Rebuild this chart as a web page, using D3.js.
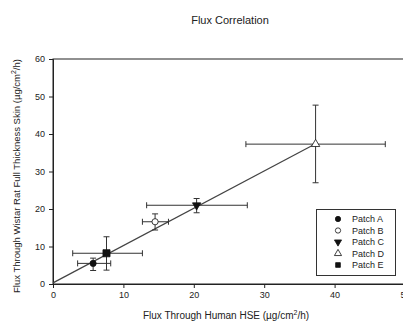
<!DOCTYPE html>
<html>
<head>
<meta charset="utf-8">
<title>Flux Correlation</title>
<script src="https://cdn.jsdelivr.net/npm/d3@7"></script>
<style>
    body { margin: 0; background: #fff; }
    text { font-family: "Liberation Sans", Arial, sans-serif; fill: #222; }
    .axis path, .axis line { stroke: #222; }
</style>
</head>
<body>
<script>
    // data
    var patches = ["Patch A", "Patch B", "Patch C", "Patch D", "Patch E"];
    var humanFlux = [5.7, 14.5, 20.4, 37.3, 7.6];
    var humanLo = [3.5, 12.7, 13.3, 27.4, 2.8];
    var humanHi = [8.2, 16.4, 27.6, 47.2, 12.7];
    var ratFlux = [5.5, 16.6, 21.0, 37.3, 8.2];
    var ratLo = [3.6, 14.4, 19.0, 27.0, 3.7];
    var ratHi = [6.9, 18.7, 22.8, 47.7, 12.6];
    var symbols = ["circle", "circle", "triangleDown", "triangle", "square"];
    var filled = [true, false, true, false, true];
    var fitLine = [[0, 0.3], [37.3, 37.4]];
    var xTicks = [0, 10, 20, 30, 40, 50];
    var yTicks = [0, 10, 20, 30, 40, 50, 60];

    var width = 403, height = 322;
    var svg = d3.select("body").append("svg")
        .attr("width", width)
        .attr("height", height);

    var x = d3.scaleLinear().domain([0, 50]).range([53, 405]);
    var y = d3.scaleLinear().domain([0, 60]).range([284, 59]);

    // frame
    svg.append("rect")
        .attr("x", x(0)).attr("y", y(60))
        .attr("width", x(50) - x(0)).attr("height", y(0) - y(60))
        .attr("fill", "none").attr("stroke", "#222");

    svg.append("g").attr("class", "axis")
        .attr("transform", "translate(0," + y(0) + ")")
        .call(d3.axisBottom(x).tickValues(xTicks).tickSize(4).tickPadding(4))
        .call(function (g) { g.selectAll("text").style("font-size", "9px"); });

    svg.append("g").attr("class", "axis")
        .attr("transform", "translate(" + x(0) + ",0)")
        .call(d3.axisLeft(y).tickValues(yTicks).tickSize(4).tickPadding(4))
        .call(function (g) { g.selectAll("text").style("font-size", "9px"); });

    // fit line
    svg.append("line")
        .attr("x1", x(fitLine[0][0])).attr("y1", y(fitLine[0][1]))
        .attr("x2", x(fitLine[1][0])).attr("y2", y(fitLine[1][1]))
        .attr("stroke", "#444").attr("stroke-width", 1.2);

    var idx = d3.range(patches.length);
    var cap = 3;
    var eb = svg.append("g").attr("stroke", "#333").attr("stroke-width", 1);

    idx.forEach(function (i) {
        var cx = x(humanFlux[i]), cy = y(ratFlux[i]);
        eb.append("line").attr("x1", x(humanLo[i])).attr("x2", x(humanHi[i])).attr("y1", cy).attr("y2", cy);
        eb.append("line").attr("x1", x(humanLo[i])).attr("x2", x(humanLo[i])).attr("y1", cy - cap).attr("y2", cy + cap);
        eb.append("line").attr("x1", x(humanHi[i])).attr("x2", x(humanHi[i])).attr("y1", cy - cap).attr("y2", cy + cap);
        eb.append("line").attr("x1", cx).attr("x2", cx).attr("y1", y(ratLo[i])).attr("y2", y(ratHi[i]));
        eb.append("line").attr("x1", cx - cap).attr("x2", cx + cap).attr("y1", y(ratLo[i])).attr("y2", y(ratLo[i]));
        eb.append("line").attr("x1", cx - cap).attr("x2", cx + cap).attr("y1", y(ratHi[i])).attr("y2", y(ratHi[i]));
    });

    function symbolPath(name, size) {
        if (name === "triangleDown") {
            return d3.symbol().type(d3.symbolTriangle).size(size)();
        }
        var t = { circle: d3.symbolCircle, triangle: d3.symbolTriangle, square: d3.symbolSquare }[name];
        return d3.symbol().type(t).size(size)();
    }

    function drawMarker(g, i, px, py, size) {
        g.append("path")
            .attr("d", symbolPath(symbols[i], size))
            .attr("transform", "translate(" + px + "," + py + ")" + (symbols[i] === "triangleDown" ? " rotate(180)" : ""))
            .attr("fill", filled[i] ? "#111" : "#fff")
            .attr("stroke", "#111")
            .attr("stroke-width", 0.8);
    }

    var marks = svg.append("g");
    idx.forEach(function (i) {
        drawMarker(marks, i, x(humanFlux[i]), y(ratFlux[i]), symbols[i] === "square" ? 50 : 30);
    });

    // legend
    var lg = svg.append("g");
    lg.append("rect")
        .attr("x", 316.5).attr("y", 209.5).attr("width", 79).attr("height", 66)
        .attr("fill", "#fff").attr("stroke", "#333");
    idx.forEach(function (i) {
        var ly = 219 + i * 11.5;
        drawMarker(lg, i, 338, ly, 22);
        lg.append("text").attr("x", 352).attr("y", ly + 3.3)
            .style("font-size", "9px").text(patches[i]);
    });

    svg.append("text")
        .attr("x", 230).attr("y", 24)
        .attr("text-anchor", "middle")
        .style("font-size", "11px")
        .text("Flux Correlation");

    var xl = svg.append("text")
        .attr("x", 226).attr("y", 319)
        .attr("text-anchor", "middle")
        .style("font-size", "10px");
    xl.append("tspan").text("Flux Through Human HSE (\u00b5g/cm");
    xl.append("tspan").attr("dy", -4).style("font-size", "7px").text("2");
    xl.append("tspan").attr("dy", 4).text("/h)");

    var yl = svg.append("text")
        .attr("transform", "translate(20,176) rotate(-90)")
        .attr("text-anchor", "middle")
        .style("font-size", "9.5px");
    yl.append("tspan").text("Flux Through Wistar Rat Full Thickness Skin (\u00b5g/cm");
    yl.append("tspan").attr("dy", -4).style("font-size", "7px").text("2");
    yl.append("tspan").attr("dy", 4).text("/h)");
</script>
</body>
</html>
